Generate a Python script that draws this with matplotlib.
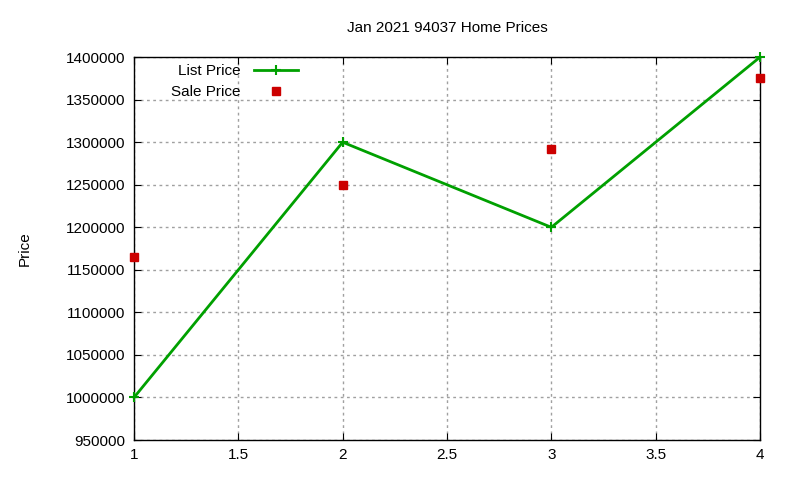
import matplotlib
matplotlib.use("Agg")
import matplotlib.pyplot as plt
from matplotlib.ticker import FormatStrFormatter

plt.rcParams['font.family'] = ['Liberation Sans', 'DejaVu Sans']

x = [1, 2, 3, 4]
list_price = [1000000, 1300000, 1200000, 1400000]
sale_price = [1165000, 1250000, 1292000, 1375000]

fig = plt.figure(figsize=(8, 4.8), dpi=100)
ax = fig.add_axes([0.1675, 0.0833, 0.7825, 0.7977])

ax.plot(x, list_price, color="#00a000", lw=2, marker="+", ms=7, mew=1.5,
        label="List Price", clip_on=False, zorder=3)
ax.plot(x, sale_price, color="#cc0000", lw=0, marker="s", ms=6,
        label="Sale Price", clip_on=False, zorder=3)

ax.set_xlim(1, 4)
ax.set_ylim(950000, 1400000)
ax.set_xticks([1, 1.5, 2, 2.5, 3, 3.5, 4])
ax.set_yticks(range(950000, 1400001, 50000))
ax.xaxis.set_major_formatter(FormatStrFormatter("%g"))
ax.yaxis.set_major_formatter(FormatStrFormatter("%d"))
ax.tick_params(direction="in", top=True, right=True, labelsize=11, length=5, pad=6)
ax.grid(True, color="#a0a0a0", linestyle=(0, (2, 2.5)), linewidth=1)
for s in ax.spines.values():
    s.set_linewidth(1)

ax.set_title("Jan 2021 94037 Home Prices", fontsize=11, pad=18)
ax.set_ylabel("Price", fontsize=11, labelpad=25)

ax.legend(loc="upper right", frameon=False, markerfirst=False, fontsize=11,
          handlelength=2.9, handletextpad=0.85, borderpad=0, borderaxespad=0,
          labelspacing=0.45, bbox_to_anchor=(0.3725, 0.866),
          bbox_transform=fig.transFigure)

fig.savefig("out.png", dpi=100)
